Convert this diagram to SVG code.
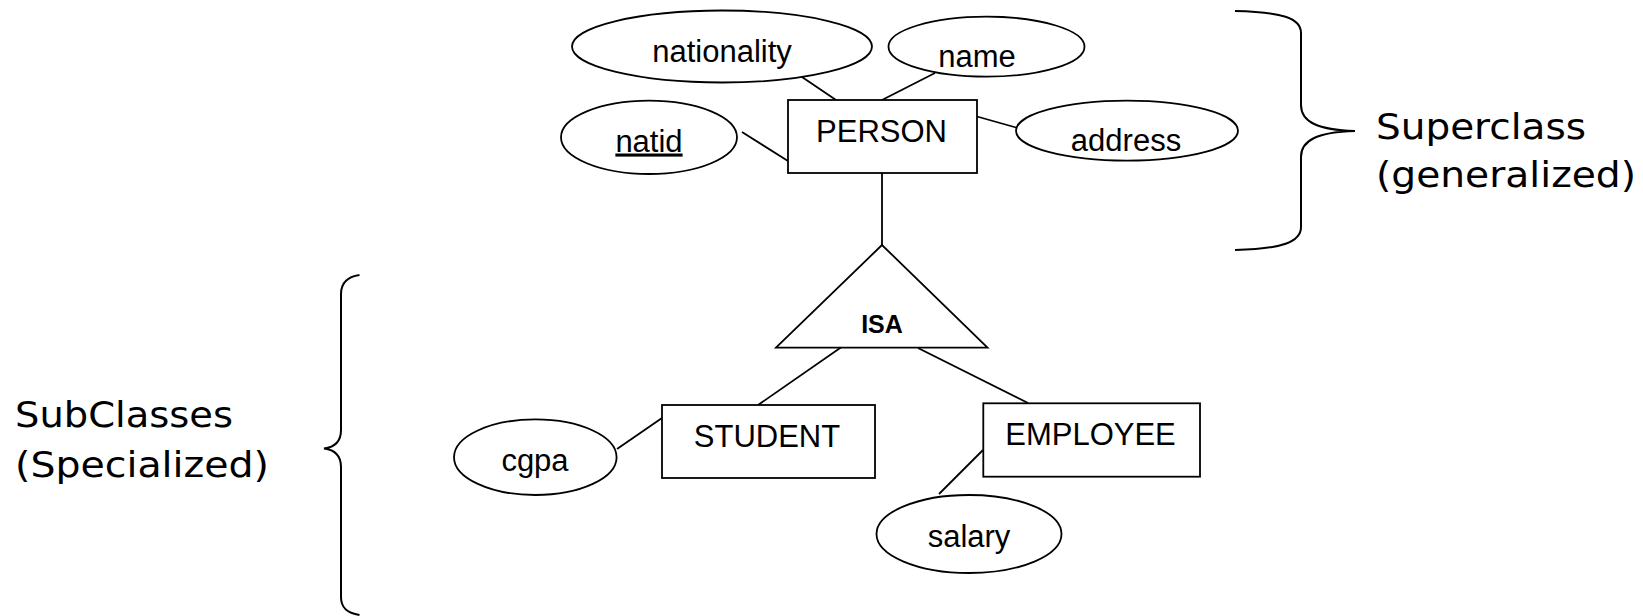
<svg xmlns="http://www.w3.org/2000/svg" width="1643" height="616" viewBox="0 0 1643 616">
<style>
.shape{fill:#fff;stroke:#000;stroke-width:1.8}
.ln{stroke:#000;stroke-width:1.8;fill:none}
.br{stroke:#000;stroke-width:2;fill:none}
.t{font-family:"Liberation Sans",Arial,sans-serif;font-size:31px;fill:#000;text-anchor:middle}
.isa{font-family:"Liberation Sans",Arial,sans-serif;font-size:25px;font-weight:bold;fill:#000;text-anchor:middle}
.c{font-family:"Comic Sans MS","DejaVu Sans",sans-serif;font-size:35px;fill:#000}
</style>
<rect width="1643" height="616" fill="#fff"/>
<g id="connectors">
<line class="ln" x1="802" y1="77" x2="836" y2="100"/>
<line class="ln" x1="935" y1="73" x2="882" y2="100"/>
<line class="ln" x1="742" y1="132" x2="788" y2="161"/>
<line class="ln" x1="977" y1="116.5" x2="1016" y2="127.5"/>
<line class="ln" x1="882" y1="173" x2="882" y2="245"/>
<line class="ln" x1="843" y1="346" x2="758" y2="405"/>
<line class="ln" x1="918" y1="348" x2="1028" y2="403"/>
<line class="ln" x1="617" y1="449" x2="662" y2="418"/>
<line class="ln" x1="983" y1="450" x2="939" y2="494"/>
</g>
<g id="nationality"><ellipse class="shape" cx="722" cy="46.5" rx="150" ry="36"/><text class="t" x="722" y="62">nationality</text></g>
<g id="name"><ellipse class="shape" cx="986.5" cy="46.7" rx="98" ry="30"/><text class="t" x="977" y="66.5">name</text></g>
<g id="natid"><ellipse class="shape" cx="649" cy="137.3" rx="88" ry="36.7"/><text class="t" x="649" y="151.5" text-decoration="underline">natid</text></g>
<g id="person"><rect class="shape" x="788" y="100" width="189" height="73"/><text class="t" x="881.5" y="141.5">PERSON</text></g>
<g id="address"><ellipse class="shape" cx="1127" cy="130.7" rx="111" ry="30"/><text class="t" x="1126" y="150.5">address</text></g>
<g id="isa"><polygon class="shape" points="882,245 776,347.7 987.5,347.7"/><text class="isa" x="882" y="333">ISA</text></g>
<g id="student"><rect class="shape" x="662" y="405" width="213" height="73"/><text class="t" x="767" y="446.5">STUDENT</text></g>
<g id="cgpa"><ellipse class="shape" cx="535.3" cy="457.2" rx="81.3" ry="37.8"/><text class="t" x="535" y="470.5">cgpa</text></g>
<g id="employee"><rect class="shape" x="983.3" y="403.3" width="216.7" height="73.4"/><text class="t" x="1090.5" y="445">EMPLOYEE</text></g>
<g id="salary"><ellipse class="shape" cx="969" cy="534" rx="92.5" ry="39"/><text class="t" x="969" y="547">salary</text></g>
<g id="superclass-brace">
<path class="br" d="M1235,11 C1282,12 1301,18 1301,33 L1301,105 C1301,122 1318,130 1355,131 C1318,132 1301,140 1301,157 L1301,227 C1301,242 1282,249 1235,250"/>
<text class="c" x="1376" y="139" textLength="210" lengthAdjust="spacingAndGlyphs">Superclass</text>
<text class="c" x="1376" y="187" textLength="260" lengthAdjust="spacingAndGlyphs">(generalized)</text>
</g>
<g id="subclass-brace">
<path class="br" d="M359.5,275 C346,277 341,284 341,294 L341,430 C341,440 336,447 324,448.5 C336,450 341,457 341,467 L341,597 C341,607 346,613 359.5,615"/>
<text class="c" x="15" y="427" textLength="218" lengthAdjust="spacingAndGlyphs">SubClasses</text>
<text class="c" x="15" y="477" textLength="254" lengthAdjust="spacingAndGlyphs">(Specialized)</text>
</g>
</svg>
